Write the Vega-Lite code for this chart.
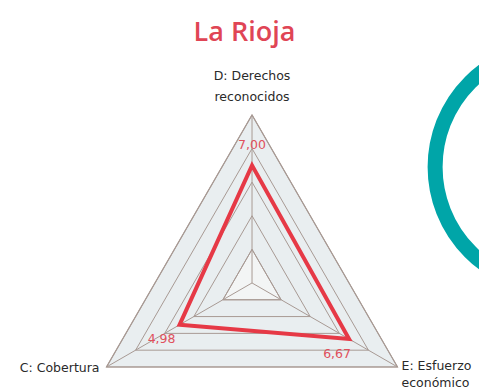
{
  "$schema": "https://vega.github.io/schema/vega-lite/v6.json",
  "width": 479,
  "height": 330,
  "autosize": {"type": "none"},
  "padding": {"left": 0, "right": 0, "top": 60, "bottom": 0},
  "background": "white",
  "config": {"view": {"stroke": null}},
  "title": {"text": "La Rioja", "fontSize": 27, "color": "#e04555", "font": "Open Sans", "fontWeight": 600, "anchor": "middle", "baseline": "alphabetic", "offset": -51, "dx": 5},
  "datasets": {
    "scores": [
      {"axis": "D", "value": 7.00, "label": "7,00"},
      {"axis": "E", "value": 6.67, "label": "6,67"},
      {"axis": "C", "value": 4.98, "label": "4,98"}
    ],
    "rings": [
      {"ring": 2, "axis": "D"}, {"ring": 2, "axis": "E"}, {"ring": 2, "axis": "C"},
      {"ring": 4, "axis": "D"}, {"ring": 4, "axis": "E"}, {"ring": 4, "axis": "C"},
      {"ring": 6, "axis": "D"}, {"ring": 6, "axis": "E"}, {"ring": 6, "axis": "C"},
      {"ring": 8, "axis": "D"}, {"ring": 8, "axis": "E"}, {"ring": 8, "axis": "C"},
      {"ring": 10, "axis": "D"}, {"ring": 10, "axis": "E"}, {"ring": 10, "axis": "C"}
    ],
    "axes": [
      {"axis": "D", "name": "D: Derechos\nreconocidos", "max": 10},
      {"axis": "E", "name": "E: Esfuerzo\neconómico", "max": 10},
      {"axis": "C", "name": "C: Cobertura", "max": 10}
    ]
  },
  "resolve": {"scale": {"x": "shared", "y": "shared"}},
  "layer": [
    {
      "data": {"name": "rings"},
      "transform": [
        {"filter": "datum.ring == 10"},
        {"calculate": "datum.axis==='D' ? PI/2 : datum.axis==='E' ? -PI/6 : 7*PI/6", "as": "ang"},
        {"calculate": "datum.ring*cos(datum.ang)", "as": "px"},
        {"calculate": "datum.ring*sin(datum.ang)", "as": "py"}
      ],
      "mark": {"type": "line", "interpolate": "linear-closed", "fill": "#e9eef0", "stroke": "#a89a94", "strokeWidth": 1.2},
      "encoding": {
        "x": {"field": "px", "type": "quantitative", "scale": {"domain": [-15, 13.51], "nice": false, "zero": false}, "axis": null},
        "y": {"field": "py", "type": "quantitative", "scale": {"domain": [-6.37, 13.27], "nice": false, "zero": false}, "axis": null},
        "order": {"field": "ang"}
      }
    },
    {
      "data": {"name": "rings"},
      "transform": [
        {"filter": "datum.ring == 2"},
        {"calculate": "datum.axis==='D' ? PI/2 : datum.axis==='E' ? -PI/6 : 7*PI/6", "as": "ang"},
        {"calculate": "datum.ring*cos(datum.ang)", "as": "px"},
        {"calculate": "datum.ring*sin(datum.ang)", "as": "py"}
      ],
      "mark": {"type": "line", "interpolate": "linear-closed", "fill": "#f3f5f5", "stroke": "#a89a94", "strokeWidth": 1},
      "encoding": {
        "x": {"field": "px", "type": "quantitative", "scale": {"domain": [-15, 13.51], "nice": false, "zero": false}, "axis": null},
        "y": {"field": "py", "type": "quantitative", "scale": {"domain": [-6.37, 13.27], "nice": false, "zero": false}, "axis": null},
        "order": {"field": "ang"}
      }
    },
    {
      "data": {"name": "axes"},
      "transform": [
        {"calculate": "datum.axis==='D' ? PI/2 : datum.axis==='E' ? -PI/6 : 7*PI/6", "as": "ang"},
        {"calculate": "datum.max*cos(datum.ang)", "as": "px"},
        {"calculate": "datum.max*sin(datum.ang)", "as": "py"},
        {"calculate": "0", "as": "origin"}
      ],
      "mark": {"type": "rule", "stroke": "#a89a94", "strokeWidth": 1},
      "encoding": {
        "x": {"field": "origin", "type": "quantitative", "scale": {"domain": [-15, 13.51], "nice": false, "zero": false}, "axis": null},
        "y": {"field": "origin", "type": "quantitative", "scale": {"domain": [-6.37, 13.27], "nice": false, "zero": false}, "axis": null},
        "x2": {"field": "px"},
        "y2": {"field": "py"}
      }
    },
    {
      "data": {"name": "rings"},
      "transform": [
        {"calculate": "datum.axis==='D' ? PI/2 : datum.axis==='E' ? -PI/6 : 7*PI/6", "as": "ang"},
        {"calculate": "datum.ring*cos(datum.ang)", "as": "px"},
        {"calculate": "datum.ring*sin(datum.ang)", "as": "py"}
      ],
      "mark": {"type": "line", "interpolate": "linear-closed", "stroke": "#a89a94", "strokeWidth": 1},
      "encoding": {
        "x": {"field": "px", "type": "quantitative", "scale": {"domain": [-15, 13.51], "nice": false, "zero": false}, "axis": null},
        "y": {"field": "py", "type": "quantitative", "scale": {"domain": [-6.37, 13.27], "nice": false, "zero": false}, "axis": null},
        "detail": {"field": "ring", "type": "nominal"},
        "order": {"field": "ang"}
      }
    },
    {
      "data": {"name": "scores"},
      "transform": [
        {"calculate": "datum.axis==='D' ? PI/2 : datum.axis==='E' ? -PI/6 : 7*PI/6", "as": "ang"},
        {"calculate": "datum.value*cos(datum.ang)", "as": "px"},
        {"calculate": "datum.value*sin(datum.ang)", "as": "py"}
      ],
      "mark": {"type": "line", "interpolate": "linear-closed", "stroke": "#e63946", "strokeWidth": 4, "strokeJoin": "miter"},
      "encoding": {
        "x": {"field": "px", "type": "quantitative", "scale": {"domain": [-15, 13.51], "nice": false, "zero": false}, "axis": null},
        "y": {"field": "py", "type": "quantitative", "scale": {"domain": [-6.37, 13.27], "nice": false, "zero": false}, "axis": null},
        "order": {"field": "ang"}
      }
    },
    {
      "data": {"name": "scores"},
      "transform": [
        {"filter": "datum.axis === 'D'"},
        {"calculate": "datum.value*cos(PI/2)", "as": "px"},
        {"calculate": "datum.value*sin(PI/2)", "as": "py"}
      ],
      "mark": {"type": "text", "font": "DejaVu Sans", "fontSize": 12.5, "color": "#e0505c", "dy": -20, "baseline": "middle"},
      "encoding": {
        "x": {"field": "px", "type": "quantitative", "scale": {"domain": [-15, 13.51], "nice": false, "zero": false}, "axis": null},
        "y": {"field": "py", "type": "quantitative", "scale": {"domain": [-6.37, 13.27], "nice": false, "zero": false}, "axis": null},
        "text": {"field": "label"}
      }
    },
    {
      "data": {"name": "scores"},
      "transform": [
        {"filter": "datum.axis === 'E'"},
        {"calculate": "datum.value*cos(-PI/6)", "as": "px"},
        {"calculate": "datum.value*sin(-PI/6)", "as": "py"}
      ],
      "mark": {"type": "text", "font": "DejaVu Sans", "fontSize": 12.5, "color": "#e0505c", "dx": -12, "dy": 15, "baseline": "middle"},
      "encoding": {
        "x": {"field": "px", "type": "quantitative", "scale": {"domain": [-15, 13.51], "nice": false, "zero": false}, "axis": null},
        "y": {"field": "py", "type": "quantitative", "scale": {"domain": [-6.37, 13.27], "nice": false, "zero": false}, "axis": null},
        "text": {"field": "label"}
      }
    },
    {
      "data": {"name": "scores"},
      "transform": [
        {"filter": "datum.axis === 'C'"},
        {"calculate": "datum.value*cos(7*PI/6)", "as": "px"},
        {"calculate": "datum.value*sin(7*PI/6)", "as": "py"}
      ],
      "mark": {"type": "text", "font": "DejaVu Sans", "fontSize": 12.5, "color": "#e0505c", "dx": -18, "dy": 14, "baseline": "middle"},
      "encoding": {
        "x": {"field": "px", "type": "quantitative", "scale": {"domain": [-15, 13.51], "nice": false, "zero": false}, "axis": null},
        "y": {"field": "py", "type": "quantitative", "scale": {"domain": [-6.37, 13.27], "nice": false, "zero": false}, "axis": null},
        "text": {"field": "label"}
      }
    },
    {
      "data": {"name": "axes"},
      "transform": [
        {"filter": "datum.axis === 'D'"},
        {"calculate": "datum.max*cos(PI/2)", "as": "px"},
        {"calculate": "datum.max*sin(PI/2)", "as": "py"}
      ],
      "mark": {"type": "text", "font": "DejaVu Sans", "fontSize": 12.5, "color": "#2a2a2a", "lineBreak": "\n", "lineHeight": 21, "dy": -39, "baseline": "middle", "align": "center"},
      "encoding": {
        "x": {"field": "px", "type": "quantitative", "scale": {"domain": [-15, 13.51], "nice": false, "zero": false}, "axis": null},
        "y": {"field": "py", "type": "quantitative", "scale": {"domain": [-6.37, 13.27], "nice": false, "zero": false}, "axis": null},
        "text": {"field": "name"}
      }
    },
    {
      "data": {"name": "axes"},
      "transform": [
        {"filter": "datum.axis === 'E'"},
        {"calculate": "datum.max*cos(-PI/6)", "as": "px"},
        {"calculate": "datum.max*sin(-PI/6)", "as": "py"}
      ],
      "mark": {"type": "text", "font": "DejaVu Sans", "fontSize": 12.5, "color": "#2a2a2a", "lineBreak": "\n", "lineHeight": 17, "dx": 4, "dy": -1, "baseline": "middle", "align": "left"},
      "encoding": {
        "x": {"field": "px", "type": "quantitative", "scale": {"domain": [-15, 13.51], "nice": false, "zero": false}, "axis": null},
        "y": {"field": "py", "type": "quantitative", "scale": {"domain": [-6.37, 13.27], "nice": false, "zero": false}, "axis": null},
        "text": {"field": "name"}
      }
    },
    {
      "data": {"name": "axes"},
      "transform": [
        {"filter": "datum.axis === 'C'"},
        {"calculate": "datum.max*cos(7*PI/6)", "as": "px"},
        {"calculate": "datum.max*sin(7*PI/6)", "as": "py"}
      ],
      "mark": {"type": "text", "font": "DejaVu Sans", "fontSize": 12.5, "color": "#2a2a2a", "dx": -7, "dy": 1, "baseline": "middle", "align": "right"},
      "encoding": {
        "x": {"field": "px", "type": "quantitative", "scale": {"domain": [-15, 13.51], "nice": false, "zero": false}, "axis": null},
        "y": {"field": "py", "type": "quantitative", "scale": {"domain": [-6.37, 13.27], "nice": false, "zero": false}, "axis": null},
        "text": {"field": "name"}
      }
    },
    {
      "data": {"values": [{"shape": "ring", "cx": 18.04, "cy": 6.9}]},
      "mark": {"type": "point", "shape": "circle", "filled": false, "stroke": "#00a5a8", "strokeWidth": 15, "size": 57600, "opacity": 1},
      "encoding": {
        "x": {"field": "cx", "type": "quantitative", "scale": {"domain": [-15, 13.51], "nice": false, "zero": false}, "axis": null},
        "y": {"field": "cy", "type": "quantitative", "scale": {"domain": [-6.37, 13.27], "nice": false, "zero": false}, "axis": null}
      }
    }
  ]
}
